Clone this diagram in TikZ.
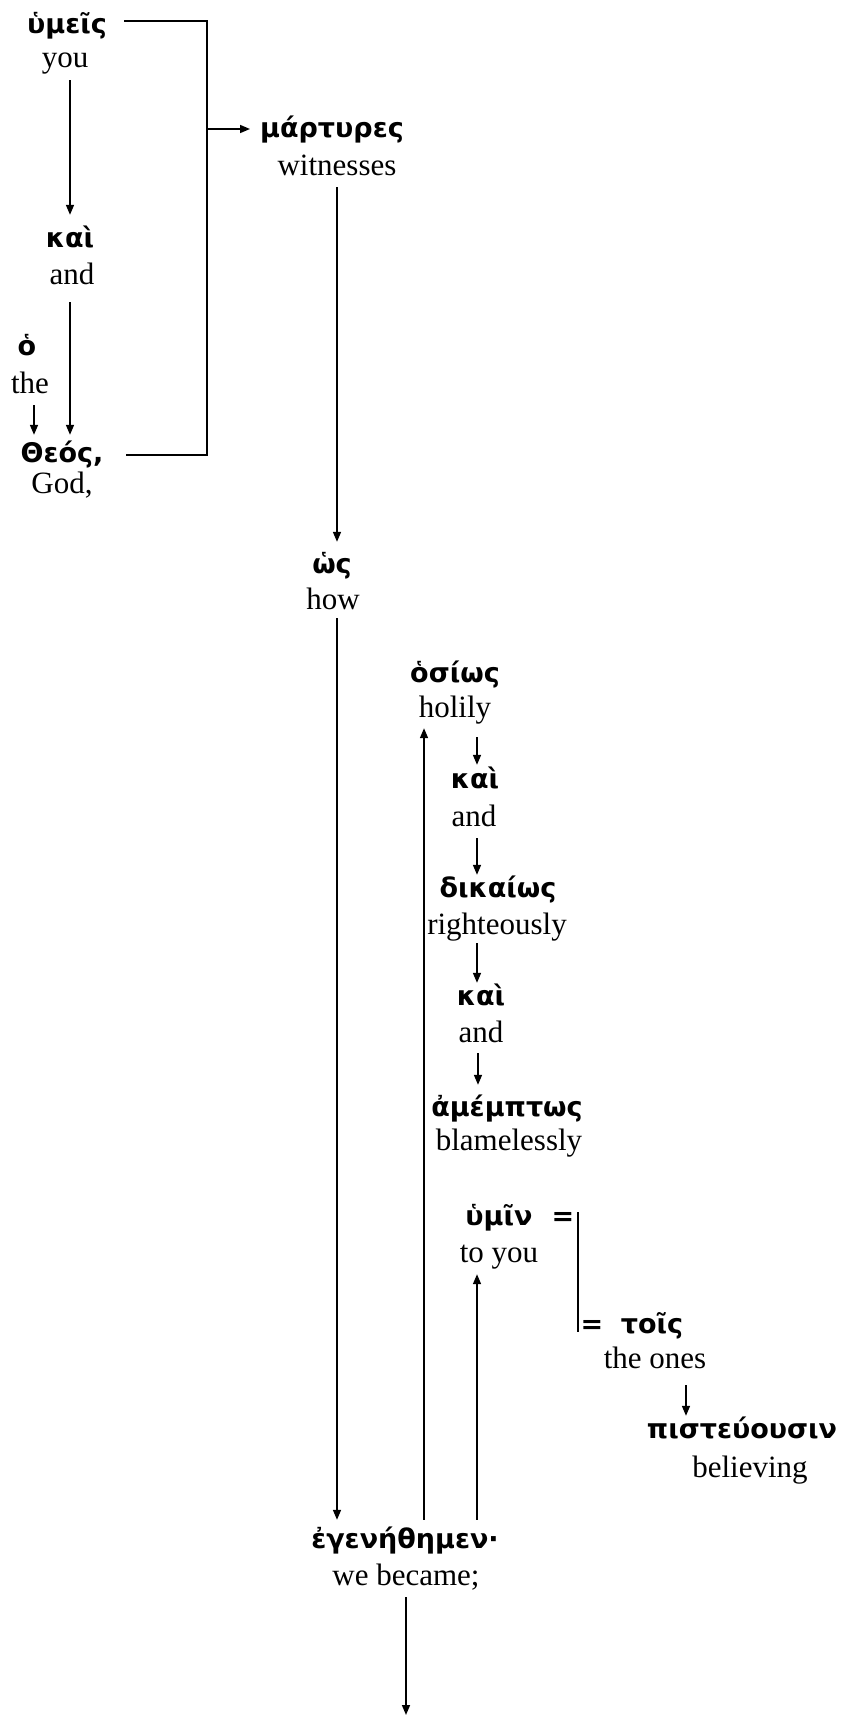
\documentclass[tikz,border=0pt]{standalone}
\usepackage{fontspec}
\setmainfont{Liberation Serif}
\newfontfamily\grk{DejaVu Sans}
\usetikzlibrary{arrows.meta}
\begin{document}
\begin{tikzpicture}[x=1pt,y=-1pt,
  gk/.style={font=\grk\bfseries\fontsize{27}{32}\selectfont, inner sep=0pt, anchor=base, text height=22pt, text depth=6pt},
  en/.style={font=\fontsize{31}{36}\selectfont, inner sep=0pt, anchor=base, text height=22pt, text depth=8pt},
  arr/.style={-{Triangle[length=10pt,width=8pt]}, line width=1.6pt},
  ln/.style={line width=1.6pt}]
\fill[white] (0,0) rectangle (841,1716);
\useasboundingbox (0,0) rectangle (841,1716);
% Greek words
\node[gk] (g1) at (67,33) {ὑμεῖς};
\node[gk] (g2) at (332,137) {μάρτυρες};
\node[gk] (g3) at (70,247) {καὶ};
\node[gk] (g4) at (27,355) {ὁ};
\node[gk] (g5) at (62,462) {Θεός,};
\node[gk] (g6) at (332,573) {ὡς};
\node[gk] (g7) at (455,682) {ὁσίως};
\node[gk] (g8) at (475,788) {καὶ};
\node[gk] (g9) at (498,897) {δικαίως};
\node[gk] (g10) at (481,1005) {καὶ};
\node[gk] (g11) at (507,1116) {ἀμέμπτως};
\node[gk] (g12) at (499,1225) {ὑμῖν};
\node[gk] (eq1) at (563,1225) {=};
\node[gk] (eq2) at (592,1333) {=};
\node[gk] (g13) at (652,1333) {τοῖς};
\node[gk] (g14) at (742,1438) {πιστεύουσιν};
\node[gk] (g15) at (405,1548) {ἐγενήθημεν·};
% English glosses
\node[en] (e1) at (65,67) {you};
\node[en] (e2) at (337,175) {witnesses};
\node[en] (e3) at (72,284) {and};
\node[en] (e4) at (30,393) {the};
\node[en] (e5) at (62,493) {God,};
\node[en] (e6) at (333,609) {how};
\node[en] (e7) at (455,717) {holily};
\node[en] (e8) at (474,826) {and};
\node[en] (e9) at (497,934) {righteously};
\node[en] (e10) at (481,1042) {and};
\node[en] (e11) at (509,1150) {blamelessly};
\node[en] (e12) at (499,1262) {to you};
\node[en] (e13) at (655,1368) {the ones};
\node[en] (e14) at (750,1477) {believing};
\node[en] (e15) at (406,1585) {we became;};
% bracket: you and God -> witnesses
\coordinate (bt) at (207,21);
\coordinate (bb) at (207,455);
\coordinate (bm) at (207,129);
\draw[ln, shorten <=17pt, shorten >=22pt] (g1.east |- bt) -- (bt) -- (bb) -- (g5.east |- bb);
\draw[arr, shorten >=10pt] (bm) -- (g2.west |- bm);
% left column
\draw[arr, shorten <=5pt, shorten >=10pt] (e1.south -| g3) -- (g3.north);
\draw[arr, shorten <=10pt, shorten >=5pt] (e3.south -| g3) -- (g3 |- g5.north);
\coordinate (tA) at ([xshift=4pt]e4.south);
\draw[arr, shorten <=4pt, shorten >=5pt] (tA) -- (tA |- g5.north);
% main spine
\draw[arr, shorten <=4pt, shorten >=9pt] (e2.south) -- (e2.south |- g6.north);
\coordinate (hw) at ([xshift=4pt]e6.south);
\draw[arr, shorten <=1pt, shorten >=6pt] (hw) -- (hw |- g15.north);
% adverb chain
\coordinate (h1) at ([xshift=22pt]e7.south);
\draw[arr, shorten <=12pt, shorten >=1pt] (h1) -- (h1 |- g8.north);
\coordinate (h2) at ([xshift=3pt]e8.south);
\draw[arr, shorten <=4pt] (h2) -- (h2 |- g9.north);
\coordinate (h3) at ([xshift=-20pt]e9.south);
\draw[arr, shorten <=1pt] (h3) -- (h3 |- g10.north);
\coordinate (h4) at ([xshift=-3pt]e10.south);
\draw[arr, shorten <=3pt, shorten >=9pt] (h4) -- (h4 |- g11.north);
% up arrows from the verb
\coordinate (upA) at ([xshift=-31pt]e7.south);
\draw[arr, shorten <=6pt, shorten >=3pt] (upA |- g15.north) -- (upA);
\coordinate (upB) at ([xshift=-22pt]e12.south);
\draw[arr, shorten <=6pt, shorten >=4pt] (upB |- g15.north) -- (upB);
% apposition bar
\coordinate (barT) at (578,1212);
\coordinate (barB) at (578,1332);
\draw[line width=1.2pt] (barT) -- (barB);
\coordinate (h5) at ([xshift=31pt]e13.south);
\draw[arr, shorten <=9pt] (h5) -- (h5 |- g14.north);
% final arrow
\coordinate (endB) at (406,1715);
\draw[arr, shorten <=4pt] (e15.south) -- (e15.south |- endB);
\end{tikzpicture}
\end{document}
